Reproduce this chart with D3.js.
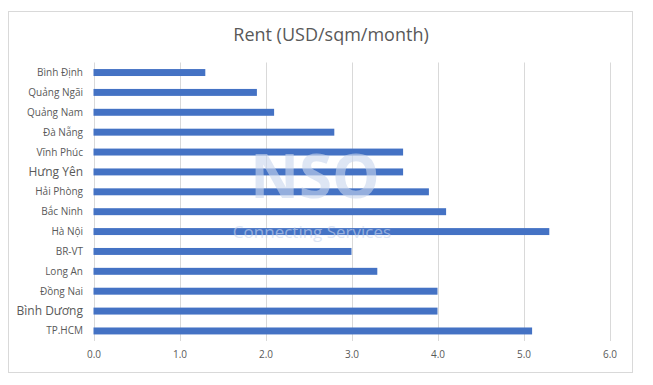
<!DOCTYPE html>
<html>
<head>
<meta charset="utf-8">
<script src="https://cdn.jsdelivr.net/npm/d3@7"></script>
<style>
  body { margin: 0; background: #fff; }
  text { font-family: "Open Sans", "Noto Sans", sans-serif; }
</style>
</head>
<body>
<svg></svg>
<script>
// rent per province, top to bottom as drawn
const provinces = ["Bình Định", "Quảng Ngãi", "Quảng Nam", "Đà Nẵng", "Vĩnh Phúc", "Hưng Yên", "Hải Phòng",
  "Bắc Ninh", "Hà Nội", "BR-VT", "Long An", "Đồng Nai", "Bình Dương", "TP.HCM"];
const rent = [1.3, 1.9, 2.1, 2.8, 3.6, 3.6, 3.9, 4.1, 5.3, 3.0, 3.3, 4.0, 4.0, 5.1];
const xTicks = [0, 1, 2, 3, 4, 5, 6];
// a couple of labels are set in a bigger font in the original
const bigLabels = ["Hưng Yên", "Bình Dương"];

const width = 653, height = 385;
const svg = d3.select("svg").attr("width", width).attr("height", height);

// chart frame
svg.append("rect")
  .attr("x", 8.5).attr("y", 11.5)
  .attr("width", 624).attr("height", 361)
  .attr("fill", "#fff").attr("stroke", "#d9d9d9");

const x = d3.scaleLinear().domain([0, 6]).range([93.5, 609.5]);
const y = d3.scaleBand().domain(provinces).range([62.5, 341]).paddingInner(0.65).paddingOuter(0.33);

// title
svg.append("text")
  .attr("x", 331).attr("y", 41)
  .attr("text-anchor", "middle")
  .attr("font-size", 18)
  .attr("fill", "#595959")
  .text("Rent (USD/sqm/month)");

// vertical gridlines
svg.append("g")
  .selectAll("line")
  .data(xTicks)
  .join("line")
    .attr("x1", d => Math.round(x(d)) + 0.5).attr("x2", d => Math.round(x(d)) + 0.5)
    .attr("y1", 62.5).attr("y2", 341)
    .attr("stroke", "#d9d9d9");

// bars
svg.append("g")
  .selectAll("rect")
  .data(provinces)
  .join("rect")
    .attr("x", x(0))
    .attr("y", d => y(d))
    .attr("width", (d, i) => x(rent[i]) - x(0))
    .attr("height", y.bandwidth())
    .attr("fill", "#4472c4");

// watermark
const wm = svg.append("g").attr("opacity", 0.6).attr("pointer-events", "none");
wm.append("text")
  .attr("x", 315).attr("y", 198)
  .attr("text-anchor", "middle")
  .attr("font-size", 60).attr("font-weight", "bold")
  .attr("fill", "#c9d6ee")
  .text("NSO");
wm.append("text")
  .attr("x", 312).attr("y", 238)
  .attr("text-anchor", "middle")
  .attr("font-size", 17)
  .attr("fill", "#c9d6ee")
  .text("Connecting Services");

// category labels
svg.append("g")
  .selectAll("text")
  .data(provinces)
  .join("text")
    .attr("x", 83)
    .attr("y", d => y(d) + y.bandwidth() / 2)
    .attr("dy", "0.35em")
    .attr("text-anchor", "end")
    .attr("font-size", d => bigLabels.includes(d) ? 12 : 10)
    .attr("fill", "#595959")
    .text(d => d);

// x axis labels
const xAxis = svg.append("g")
  .attr("transform", "translate(0,341)")
  .call(d3.axisBottom(x).tickValues(xTicks).tickFormat(d3.format(".1f")).tickSize(0).tickPadding(10));
xAxis.select(".domain").remove();
xAxis.selectAll("text")
  .attr("font-size", 10)
  .attr("fill", "#595959")
  .style("font-family", "'Open Sans', 'Noto Sans', sans-serif");
</script>
</body>
</html>
